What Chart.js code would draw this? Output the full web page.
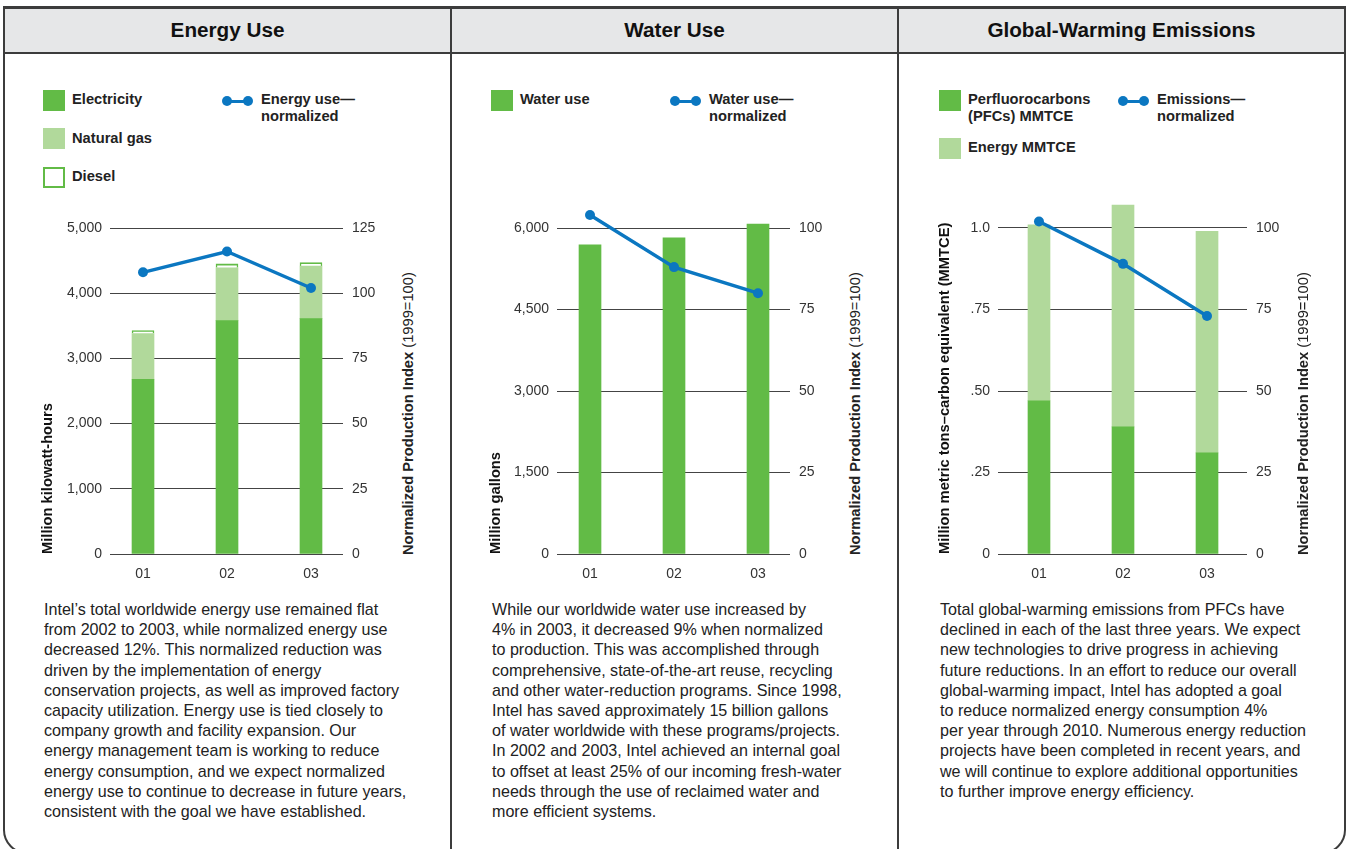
<!DOCTYPE html>
<html>
<head>
<meta charset="utf-8">
<script src="https://cdn.jsdelivr.net/npm/chart.js@4/dist/chart.umd.min.js"></script>
<style>
  html, body { margin: 0; padding: 0; background: #fff; width: 1351px; height: 849px; overflow: hidden; }
  body { position: relative; font-family: "Liberation Sans", Arial, Helvetica, sans-serif; color: #222; }
  .frame { position: absolute; left: 3px; top: 6px; width: 1343px; height: 848px; box-sizing: border-box;
           border: 2px solid #3c3c3c; border-radius: 0 0 24px 24px; }
  .header { position: absolute; left: 3px; top: 7px; width: 1343px; height: 47px; box-sizing: border-box;
            background: #e6e7e8; border-top: 2px solid #3c3c3c; border-bottom: 2px solid #3c3c3c; }
  .divider { position: absolute; top: 6px; width: 2px; height: 843px; background: #3c3c3c; }
  .ptitle { position: absolute; top: 18px; width: 447px; text-align: center; font-weight: bold; font-size: 20.7px; color: #111; }
  .legend { position: absolute; font-weight: bold; font-size: 14.7px; color: #222; line-height: 17px; }
  .sw { position: absolute; width: 22px; height: 21px; box-sizing: border-box; }
  .lt { position: absolute; white-space: nowrap; }
  .licon { position: absolute; width: 31px; height: 10px; }
  .licon .bar { position: absolute; left: 3px; top: 3.5px; width: 25px; height: 3.5px; background: #0b77c1; }
  .licon .dot { position: absolute; top: 0; width: 10px; height: 10px; border-radius: 50%; background: #0b77c1; }
  canvas { position: absolute; }
  .rtitle { position: absolute; top: 555px; white-space: nowrap; font-size: 14.7px; line-height: 17px; color: #222;
            transform: rotate(-90deg); transform-origin: left top; }
  .rtitle b { font-weight: bold; }
  .para { position: absolute; top: 599px; font-size: 16.1px; line-height: 20.2px; color: #222; white-space: nowrap; }
</style>
</head>
<body>
<div class="header"></div>
<div class="frame"></div>
<div class="divider" style="left:450px"></div>
<div class="divider" style="left:897px"></div>

<div class="ptitle" style="left:4px">Energy Use</div>
<div class="ptitle" style="left:451px">Water Use</div>
<div class="ptitle" style="left:898px">Global-Warming Emissions</div>

<!-- Energy legend -->
<div class="legend">
  <div class="sw" style="left:43px;top:90px;background:#62bb46"></div>
  <div class="lt" style="left:72px;top:91px">Electricity</div>
  <div class="sw" style="left:43px;top:128px;background:#b1d99b"></div>
  <div class="lt" style="left:72px;top:130px">Natural gas</div>
  <div class="sw" style="left:43px;top:167px;border:2px solid #62bb46;background:#fff"></div>
  <div class="lt" style="left:72px;top:168px">Diesel</div>
  <div class="licon" style="left:222px;top:96px"><div class="bar"></div><div class="dot" style="left:0"></div><div class="dot" style="left:21px"></div></div>
  <div class="lt" style="left:261px;top:91px">Energy use—<br>normalized</div>
</div>

<!-- Water legend -->
<div class="legend">
  <div class="sw" style="left:491px;top:90px;background:#62bb46"></div>
  <div class="lt" style="left:520px;top:91px">Water use</div>
  <div class="licon" style="left:670px;top:96px"><div class="bar"></div><div class="dot" style="left:0"></div><div class="dot" style="left:21px"></div></div>
  <div class="lt" style="left:709px;top:91px">Water use—<br>normalized</div>
</div>

<!-- Emissions legend -->
<div class="legend">
  <div class="sw" style="left:939px;top:90px;background:#62bb46"></div>
  <div class="lt" style="left:968px;top:91px">Perfluorocarbons<br>(PFCs) MMTCE</div>
  <div class="sw" style="left:939px;top:138px;background:#b1d99b"></div>
  <div class="lt" style="left:968px;top:139px">Energy MMTCE</div>
  <div class="licon" style="left:1118px;top:96px"><div class="bar"></div><div class="dot" style="left:0"></div><div class="dot" style="left:21px"></div></div>
  <div class="lt" style="left:1157px;top:91px">Emissions—<br>normalized</div>
</div>

<canvas id="energy" width="363" height="384" style="left:30px;top:200px;width:363px;height:384px"></canvas>
<canvas id="water" width="363" height="384" style="left:477px;top:200px;width:363px;height:384px"></canvas>
<canvas id="emissions" width="379" height="384" style="left:918px;top:200px;width:379px;height:384px"></canvas>

<div class="rtitle" style="left:399.5px"><b>Normalized Production Index</b> (1999=100)</div>
<div class="rtitle" style="left:846.5px"><b>Normalized Production Index</b> (1999=100)</div>
<div class="rtitle" style="left:1294.5px"><b>Normalized Production Index</b> (1999=100)</div>

<div class="para" style="left:44px">
Intel’s total worldwide energy use remained flat<br>
from 2002 to 2003, while normalized energy use<br>
decreased 12%. This normalized reduction was<br>
driven by the implementation of energy<br>
conservation projects, as well as improved factory<br>
capacity utilization. Energy use is tied closely to<br>
company growth and facility expansion. Our<br>
energy management team is working to reduce<br>
energy consumption, and we expect normalized<br>
energy use to continue to decrease in future years,<br>
consistent with the goal we have established.
</div>
<div class="para" style="left:492px">
While our worldwide water use increased by<br>
4% in 2003, it decreased 9% when normalized<br>
to production. This was accomplished through<br>
comprehensive, state-of-the-art reuse, recycling<br>
and other water-reduction programs. Since 1998,<br>
Intel has saved approximately 15 billion gallons<br>
of water worldwide with these programs/projects.<br>
In 2002 and 2003, Intel achieved an internal goal<br>
to offset at least 25% of our incoming fresh-water<br>
needs through the use of reclaimed water and<br>
more efficient systems.
</div>
<div class="para" style="left:940px">
Total global-warming emissions from PFCs have<br>
declined in each of the last three years. We expect<br>
new technologies to drive progress in achieving<br>
future reductions. In an effort to reduce our overall<br>
global-warming impact, Intel has adopted a goal<br>
to reduce normalized energy consumption 4%<br>
per year through 2010. Numerous energy reduction<br>
projects have been completed in recent years, and<br>
we will continue to explore additional opportunities<br>
to further improve energy efficiency.
</div>

<script>
// Years shown on every chart
const years = ['01', '02', '03'];

// Energy use (million kWh) and normalized index
const electricity = [2680, 3580, 3610];
const naturalGas = [700, 810, 805];
const diesel = [45, 60, 55];
const energyNormalized = [108, 116, 102];
const energyTickValues = [0, 1000, 2000, 3000, 4000, 5000];
const energyTickLabels = ['0', '1,000', '2,000', '3,000', '4,000', '5,000'];
const energyIndexTicks = [0, 25, 50, 75, 100, 125];

// Water use (million gallons) and normalized index
const waterUse = [5690, 5820, 6070];
const waterNormalized = [104, 88, 80];
const waterTickValues = [0, 1500, 3000, 4500, 6000];
const waterTickLabels = ['0', '1,500', '3,000', '4,500', '6,000'];

// Global-warming emissions (MMTCE) and normalized index
const pfcMmtce = [0.47, 0.39, 0.31];
const energyMmtce = [0.54, 0.68, 0.68];
const emissionsNormalized = [102, 89, 73];
const emissionsTickValues = [0, 0.25, 0.5, 0.75, 1.0];
const emissionsTickLabels = ['0', '.25', '.50', '.75', '1.0'];

// Right-hand index ticks for water and emissions
const indexTicks = [0, 25, 50, 75, 100];

const GREEN = '#62bb46';
const LIGHT_GREEN = '#b1d99b';
const BLUE = '#0b77c1';
const FONT = '"Liberation Sans", Arial, Helvetica, sans-serif';

// The plot keeps some headroom above the top labelled gridline
const HEADROOM = 354 / 326;

const pts = (arr) => arr.map((v, i) => ({ x: i + 1, y: v }));
const asTicks = (vals) => vals.map((v) => ({ value: v }));

function barSet(label, values, color, extra) {
  return Object.assign({
    type: 'bar', label, data: pts(values), backgroundColor: color,
    borderWidth: 0, barThickness: 22, yAxisID: 'y', order: 2
  }, extra || {});
}

function lineSet(label, values) {
  return {
    type: 'line', label, data: pts(values), yAxisID: 'y2', order: 0,
    borderColor: BLUE, backgroundColor: BLUE, borderWidth: 3.5,
    pointRadius: 5, pointBackgroundColor: BLUE, pointBorderWidth: 0, tension: 0
  };
}

function noPad(s) { s.paddingTop = 0; s.paddingBottom = 0; s.paddingLeft = 0; s.paddingRight = 0; }

function makeChart(id, datasets, cfg) {
  const yVals = cfg.yValues, y2Vals = cfg.y2Values;
  new Chart(document.getElementById(id), {
    data: { datasets },
    options: {
      responsive: false, animation: false, devicePixelRatio: 1,
      layout: { padding: 0, autoPadding: false },
      plugins: { legend: { display: false }, tooltip: { enabled: false } },
      scales: {
        x: {
          type: 'linear', stacked: true, offset: false, min: cfg.xMin, max: cfg.xMax,
          grid: { display: false, drawTicks: false }, border: { display: false },
          afterBuildTicks: (s) => { s.ticks = asTicks(years.map((_, i) => i + 1)); },
          ticks: {
            padding: 12, color: '#333', autoSkip: false,
            font: { family: FONT, size: 14 }, maxRotation: 0,
            callback: (v, i) => years[i]
          },
          afterFit: (s) => { s.height = 30; noPad(s); }
        },
        y: {
          position: 'left', stacked: true, min: 0, max: yVals[yVals.length - 1] * HEADROOM,
          afterBuildTicks: (s) => { s.ticks = asTicks(yVals); },
          ticks: {
            padding: 8, color: '#333', autoSkip: false, font: { family: FONT, size: 14 },
            callback: (v, i) => cfg.yLabels[i]
          },
          grid: { color: '#444', lineWidth: 1, drawTicks: false },
          border: { display: false },
          title: {
            display: true, text: cfg.yTitle, align: 'start', color: '#111',
            font: { family: FONT, size: 14.7, weight: 'bold' }, padding: { top: cfg.titlePad, bottom: 0 }
          },
          afterFit: (s) => { s.width = 80; noPad(s); }
        },
        y2: {
          position: 'right', min: 0, max: y2Vals[y2Vals.length - 1] * HEADROOM,
          afterBuildTicks: (s) => { s.ticks = asTicks(y2Vals); },
          ticks: {
            padding: 9, color: '#333', autoSkip: false, font: { family: FONT, size: 14 },
            callback: (v) => String(v)
          },
          grid: { display: false, drawTicks: false },
          border: { display: false },
          afterFit: (s) => { s.width = 50; noPad(s); }
        }
      }
    }
  });
}

makeChart('energy', [
  barSet('Electricity', electricity, GREEN),
  barSet('Natural gas', naturalGas, LIGHT_GREEN),
  barSet('Diesel', diesel, '#ffffff', {
    borderColor: GREEN, borderSkipped: false,
    borderWidth: { top: 2, left: 1.5, right: 1.5, bottom: 0 }
  }),
  lineSet('Energy use—normalized', energyNormalized)
], { xMin: 0.607, xMax: 3.381, yValues: energyTickValues, yLabels: energyTickLabels,
     y2Values: energyIndexTicks, yTitle: 'Million kilowatt-hours', titlePad: 9 });

makeChart('water', [
  barSet('Water use', waterUse, GREEN),
  lineSet('Water use—normalized', waterNormalized)
], { xMin: 0.607, xMax: 3.381, yValues: waterTickValues, yLabels: waterTickLabels,
     y2Values: indexTicks, yTitle: 'Million gallons', titlePad: 10 });

makeChart('emissions', [
  barSet('Perfluorocarbons (PFCs) MMTCE', pfcMmtce, GREEN),
  barSet('Energy MMTCE', energyMmtce, LIGHT_GREEN),
  lineSet('Emissions—normalized', emissionsNormalized)
], { xMin: 0.512, xMax: 3.476, yValues: emissionsTickValues, yLabels: emissionsTickLabels,
     y2Values: indexTicks, yTitle: 'Million metric tons–carbon equivalent (MMTCE)', titlePad: 18 });
</script>
</body>
</html>
